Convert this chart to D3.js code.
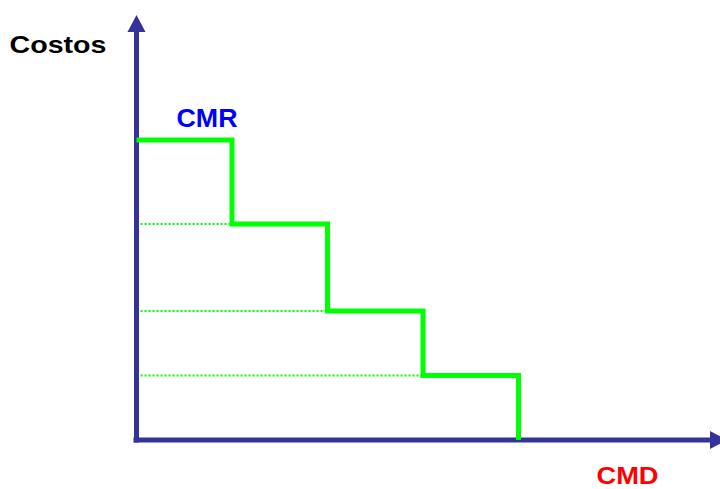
<!DOCTYPE html>
<html><head><meta charset="utf-8">
<script src="https://cdn.jsdelivr.net/npm/d3@7"></script>
<style>html,body{margin:0;padding:0;background:#fff;}svg{display:block;}</style>
</head><body>
<div id="chart"></div>
<script>
// Data
const blocks = [0, 1, 2, 3, 4];          // demand blocks (CMD axis)
const costs = [100, 72, 43, 21.5, 0];    // cost level of each step (CMR)
const yLabel = "Costos";
const xLabel = "CMD";
const curveLabel = "CMR";

const W = 720, H = 489;
const svg = d3.select("#chart").append("svg").attr("width", W).attr("height", H);

const x = d3.scaleLinear().domain([0, 4]).range([136.5, 518.5]);
const y = d3.scaleLinear().domain([0, 100]).range([440, 140]);

const axisColor = "#333399";
const green = "#00ff00";

// dotted guide lines
const guides = blocks.slice(1, 4);
svg.selectAll("line.guide").data(guides).enter().append("line")
  .attr("class", "guide")
  .attr("x1", x(0)).attr("x2", d => x(d))
  .attr("y1", d => y(costs[d])).attr("y2", d => y(costs[d]))
  .attr("stroke", green).attr("stroke-width", 2)
  .attr("stroke-dasharray", "2,2");

// axes
const yTop = 15, xRight = 727;
svg.append("line").attr("x1", x(0)).attr("x2", x(0))
  .attr("y1", y(0) + 2.5).attr("y2", yTop + 15)
  .attr("stroke", axisColor).attr("stroke-width", 5);
svg.append("path")
  .attr("d", `M${x(0)},${yTop} L${x(0) + 9},${yTop + 17} L${x(0) - 9},${yTop + 17} Z`)
  .attr("fill", axisColor);
svg.append("line").attr("x1", x(0) - 3).attr("x2", xRight - 15)
  .attr("y1", y(0)).attr("y2", y(0))
  .attr("stroke", axisColor).attr("stroke-width", 5);
svg.append("path")
  .attr("d", `M${xRight},${y(0)} L${xRight - 17},${y(0) - 9} L${xRight - 17},${y(0) + 9} Z`)
  .attr("fill", axisColor);

// step curve
const pts = blocks.map((b, i) => [b, costs[i]]);
const line = d3.line().x(d => x(d[0])).y(d => y(d[1])).curve(d3.curveStepAfter);
svg.append("path").datum(pts)
  .attr("d", line)
  .attr("fill", "none").attr("stroke", green).attr("stroke-width", 5)
  .attr("stroke-linejoin", "miter").attr("stroke-linecap", "butt");

// labels
const font = "Arial, 'Liberation Sans', sans-serif";
svg.append("text").text(yLabel).attr("x", 9.5).attr("y", 52.5)
  .attr("font-family", font).attr("font-weight", "bold").attr("font-size", 24)
  .attr("textLength", 97).attr("lengthAdjust", "spacingAndGlyphs")
  .attr("fill", "#000");
svg.append("text").text(curveLabel).attr("x", 176.5).attr("y", 126.5)
  .attr("font-family", font).attr("font-weight", "bold").attr("font-size", 25)
  .attr("textLength", 61).attr("lengthAdjust", "spacingAndGlyphs")
  .attr("fill", "#0000ff");
svg.append("text").text(xLabel).attr("x", 596.5).attr("y", 484)
  .attr("font-family", font).attr("font-weight", "bold").attr("font-size", 24)
  .attr("textLength", 62).attr("lengthAdjust", "spacingAndGlyphs")
  .attr("fill", "#ff0000");
</script>
</body></html>
